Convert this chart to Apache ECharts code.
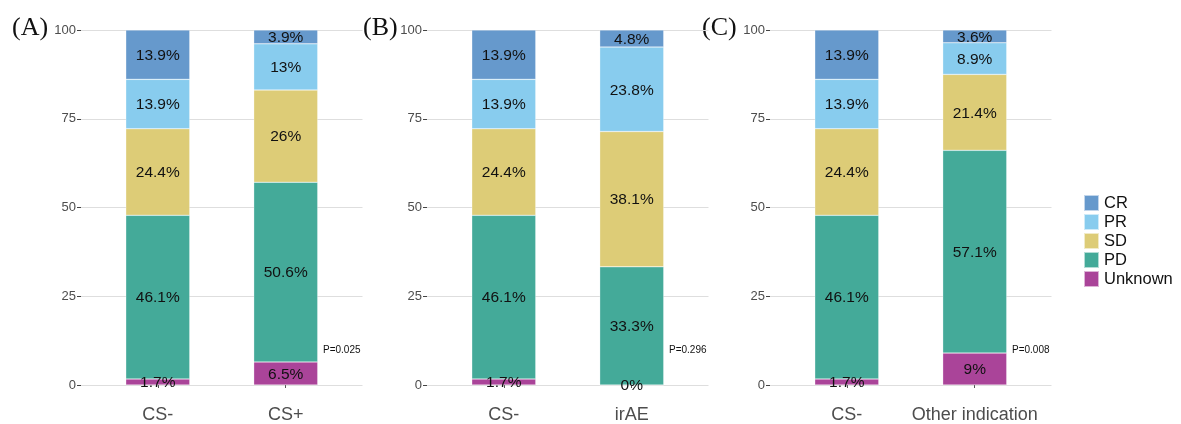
<!DOCTYPE html>
<html><head><meta charset="utf-8">
<script src="https://cdn.jsdelivr.net/npm/echarts@6/dist/echarts.min.js"></script>
<style>html,body{margin:0;padding:0;background:#fff}#c{width:1181px;height:424px}</style>
</head><body><div id="c"></div>
<script>
// Response levels (legend order, top of stack first)
const levels = ['CR', 'PR', 'SD', 'PD', 'Unknown'];
const levelColors = ['#6699CC', '#88CCEE', '#DDCC77', '#44AA99', '#AA4499'];
// Percentages per group, in order CR, PR, SD, PD, Unknown
const csMinus = [13.9, 13.9, 24.4, 46.1, 1.7];
const csPlus = [3.9, 13, 26, 50.6, 6.5];
const irAE = [4.8, 23.8, 38.1, 33.3, 0];
const otherIndication = [3.6, 8.9, 21.4, 57.1, 9];
const panelTitles = ['(A)', '(B)', '(C)'];
const panelCategories = [['CS-', 'CS+'], ['CS-', 'irAE'], ['CS-', 'Other indication']];
const panelGroups = [[csMinus, csPlus], [csMinus, irAE], [csMinus, otherIndication]];
const pValues = ['P=0.025', 'P=0.296', 'P=0.008'];

const FONT = '"Liberation Sans", Arial, sans-serif';
const gridLefts = [81, 427, 770];
const gridW = 281.5;
const unit = gridW / 2.2;
const grids = [], xAxes = [], yAxes = [], series = [], graphics = [];

panelCategories.forEach((cats, p) => {
  const gBg = grids.length;
  // background grid: y axis labels + horizontal grid lines
  grids.push({left: gridLefts[p], top: 30, width: gridW, height: 355});
  xAxes.push({type: 'value', gridIndex: gBg, show: false, min: 0, max: 1});
  yAxes.push({
    type: 'value', gridIndex: gBg, min: 0, max: 100, interval: 25,
    axisLine: {show: false},
    axisTick: {show: true, length: 4, lineStyle: {color: '#444'}},
    axisLabel: {fontFamily: FONT, fontSize: 13, color: '#4d4d4d', margin: 5},
    splitLine: {show: true, lineStyle: {color: '#dedede', width: 1}}
  });
  // bar grid: discrete x positions as in the reference
  const gBar = grids.length;
  grids.push({left: gridLefts[p] + 0.1 * unit, top: 30, width: 2 * unit, height: 355});
  xAxes.push({
    type: 'category', gridIndex: gBar, data: cats, offset: 17,
    axisLine: {show: false}, splitLine: {show: false},
    axisTick: {show: true, alignWithLabel: true, length: 3, lineStyle: {color: '#555', width: 1}},
    axisLabel: {interval: 0, fontFamily: FONT, fontSize: 18, color: '#4d4d4d', margin: 4}
  });
  yAxes.push({type: 'value', gridIndex: gBar, min: 0, max: 100, show: false, splitLine: {show: false}});
  // stack bottom -> top: Unknown, PD, SD, PR, CR
  for (let li = levels.length - 1; li >= 0; li--) {
    series.push({
      type: 'bar', name: levels[li], xAxisIndex: gBar, yAxisIndex: gBar, stack: 'p' + p,
      barWidth: 64,
      itemStyle: {color: levelColors[li], borderColor: 'rgba(255,255,255,0.6)', borderWidth: 0.5},
      label: {show: true, position: 'inside', offset: [0, 1], fontFamily: FONT, fontSize: 15.5, color: '#111',
        formatter: pr => pr.value + '%'},
      data: panelGroups[p].map(g => g[li])
    });
  }
  graphics.push({type: 'text', left: [12, 363, 702][p], top: 15,
    style: {text: panelTitles[p], font: '26px "Liberation Serif", "Times New Roman", serif', fill: '#111'}});
  graphics.push({type: 'text', left: gridLefts[p] + 242, top: 345,
    style: {text: pValues[p], font: '10px ' + FONT, fill: '#111'}});
});

const chart = echarts.init(document.getElementById('c'), null, {renderer: 'canvas'});
chart.setOption({
  animation: false,
  backgroundColor: '#fff',
  grid: grids, xAxis: xAxes, yAxis: yAxes, series: series,
  legend: {
    data: levels, orient: 'vertical', left: 1083, top: 194, padding: 0,
    icon: 'rect', itemWidth: 15, itemHeight: 16, itemGap: 1,
    textStyle: {fontFamily: FONT, fontSize: 16.5, color: '#111', lineHeight: 16},
    selectedMode: false
  },
  graphic: graphics
});
</script></body></html>
